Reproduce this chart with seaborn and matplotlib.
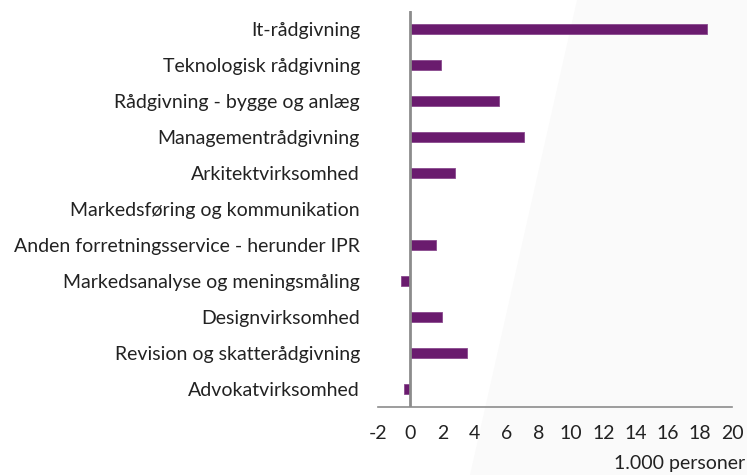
import pandas as pd
import numpy as np
import matplotlib.pyplot as plt
import seaborn as sns
from matplotlib.patches import Polygon

categories = ['It-rådgivning', 'Teknologisk rådgivning', 'Rådgivning - bygge og anlæg',
              'Managementrådgivning', 'Arkitektvirksomhed', 'Markedsføring og kommunikation',
              'Anden forretningsservice - herunder IPR', 'Markedsanalyse og meningsmåling',
              'Designvirksomhed', 'Revision og skatterådgivning', 'Advokatvirksomhed']
values = [18.45, 1.9, 5.55, 7.1, 2.8, 0.0, 1.6, -0.6, 2.0, 3.55, -0.4]
xticks = list(range(-2, 21, 2))

df = pd.DataFrame({'branche': categories, 'personer': values})

sns.set_style('white')
plt.rcParams['font.family'] = ['Lato', 'DejaVu Sans']

fig = plt.figure(figsize=(7.47, 4.75), dpi=100)
# faint diagonal background shape
fig.patches.append(Polygon([(577 / 747, 1), (1, 1), (1, 0), (470 / 747, 0)], closed=True,
                           transform=fig.transFigure, facecolor='#fafafa', edgecolor='none', zorder=-5))
ax = fig.add_axes([378 / 747, 1 - 407 / 475, 354 / 747, 396 / 475])
ax.patch.set_alpha(0)

sns.barplot(data=df, y='branche', x='personer', orient='h', color='#6a1b6e',
            saturation=1, width=0.3, edgecolor='#8a4a8e', linewidth=0.6, ax=ax)

ax.set_xlim(-2, 20)
ax.set_ylim(10.5, -0.5)
ax.set_xticks(xticks)
ax.set_xticklabels([str(t) for t in xticks], fontsize=14, color='#222222')
ax.set_yticks(range(len(categories)))
ax.set_yticklabels(categories, fontsize=14, color='#222222')
ax.tick_params(axis='y', length=0, pad=13)
ax.tick_params(axis='x', length=0, pad=13)
ax.set_xlabel('')
ax.set_ylabel('')

for s in ['top', 'right', 'left']:
    ax.spines[s].set_visible(False)
ax.spines['bottom'].set_color('#8c8c8c')
ax.spines['bottom'].set_linewidth(1.2)
ax.axvline(0, color='#8c8c8c', linewidth=2, zorder=3)

fig.text(745 / 747, 1 - 464 / 475, '1.000 personer', ha='right', va='center',
         fontsize=14, color='#222222')

fig.savefig('out.png', dpi=100)
